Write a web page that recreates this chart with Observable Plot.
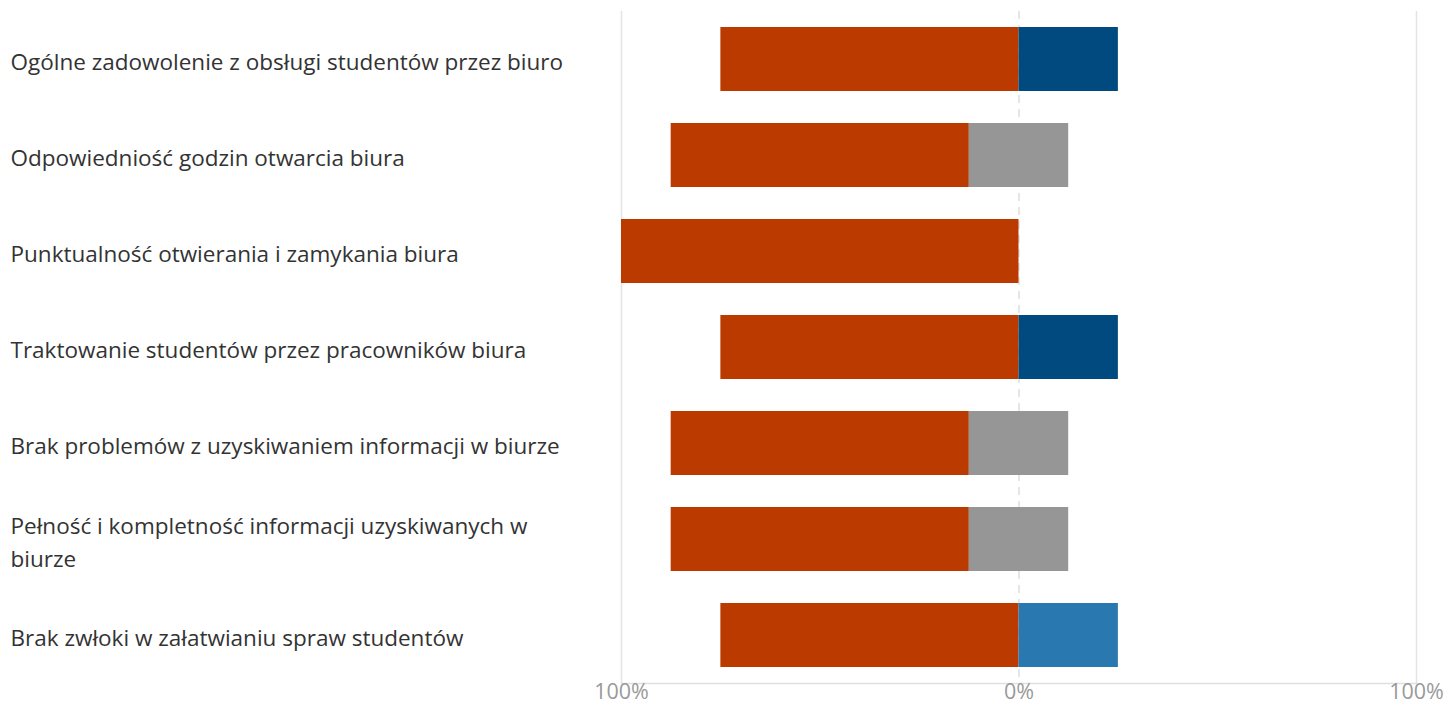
<!DOCTYPE html>
<html>
<head>
<meta charset="utf-8">
<script src="https://cdn.jsdelivr.net/npm/d3@7"></script>
<script src="https://cdn.jsdelivr.net/npm/@observablehq/plot@0.6"></script>
<style>
  html, body { margin: 0; padding: 0; background: #fff; }
  #chart svg { display: block; }
</style>
</head>
<body>
<div id="chart"></div>
<script>
const questions = [
  "Ogólne zadowolenie z obsługi studentów przez biuro",
  "Odpowiedniość godzin otwarcia biura",
  "Punktualność otwierania i zamykania biura",
  "Traktowanie studentów przez pracowników biura",
  "Brak problemów z uzyskiwaniem informacji w biurze",
  "Pełność i kompletność informacji uzyskiwanych w biurze",
  "Brak zwłoki w załatwianiu spraw studentów"
];
// percentages of answers per question
const negative = [75, 75, 100, 75, 75, 75, 75];
const neutral  = [0, 25, 0, 0, 25, 25, 0];
const positive = [0, 0, 0, 0, 0, 0, 25];
const veryPositive = [25, 0, 0, 25, 0, 0, 0];
const seriesNames = ["Nie", "Trudno powiedzieć", "Raczej tak", "Zdecydowanie tak"];
const seriesColors = ["#BB3A00", "#969696", "#2A78B0", "#004A80"];
const xTicks = [-100, 0, 100];

const segments = [];
questions.forEach((q, i) => {
  const n = neutral[i];
  const start = -n / 2;
  if (negative[i]) segments.push({q, s: seriesNames[0], x1: start - negative[i], x2: start});
  if (n) segments.push({q, s: seriesNames[1], x1: -n / 2, x2: n / 2});
  let p = n / 2;
  if (positive[i]) { segments.push({q, s: seriesNames[2], x1: p, x2: p + positive[i]}); p += positive[i]; }
  if (veryPositive[i]) { segments.push({q, s: seriesNames[3], x1: p, x2: p + veryPositive[i]}); p += veryPositive[i]; }
});

const labelFont = "22.5px 'Open Sans'";
const ctx = document.createElement("canvas").getContext("2d");
ctx.font = labelFont;
function wrap(text, maxWidth) {
  const words = text.split(" ");
  const lines = [];
  let line = "";
  for (const w of words) {
    const test = line ? line + " " + w : w;
    if (line && ctx.measureText(test).width > maxWidth) { lines.push(line); line = w; }
    else line = test;
  }
  if (line) lines.push(line);
  return lines.join("\n");
}

const chart = Plot.plot({
  width: 1447,
  height: 704,
  marginLeft: 621,
  marginRight: 31,
  marginTop: 11,
  marginBottom: 21,
  style: {fontFamily: "'Open Sans', sans-serif", background: "#fff"},
  x: {domain: [-100, 100], label: null},
  y: {domain: questions, paddingInner: 1 / 3, paddingOuter: 1 / 6, label: null},
  color: {domain: seriesNames, range: seriesColors},
  marks: [
    Plot.ruleX([-100, 100], {stroke: "#e4e4e4", strokeWidth: 1.5}),
    Plot.ruleX([0], {stroke: "#dedede", strokeWidth: 1.5, strokeDasharray: "8,6"}),
    Plot.frame({anchor: "bottom", stroke: "#e0e0e0", strokeWidth: 1.5}),
    Plot.barX(segments, {y: "q", x1: "x1", x2: "x2", fill: "s", inset: 0}),
    Plot.axisX(xTicks, {
      tickSize: 0, tickPadding: 0, fontSize: 21.5, fill: "#9a9a9a", label: null,
      tickFormat: d => Math.abs(d) + "%"
    }),
    Plot.axisY({
      tickSize: 0, tickPadding: 0, textAnchor: "start", dx: -611, label: null,
      fontSize: 22.5, fill: "#333", lineHeight: 1.47,
      tickFormat: d => wrap(d, 580)
    })
  ]
});
document.getElementById("chart").appendChild(chart);
</script>
</body>
</html>
